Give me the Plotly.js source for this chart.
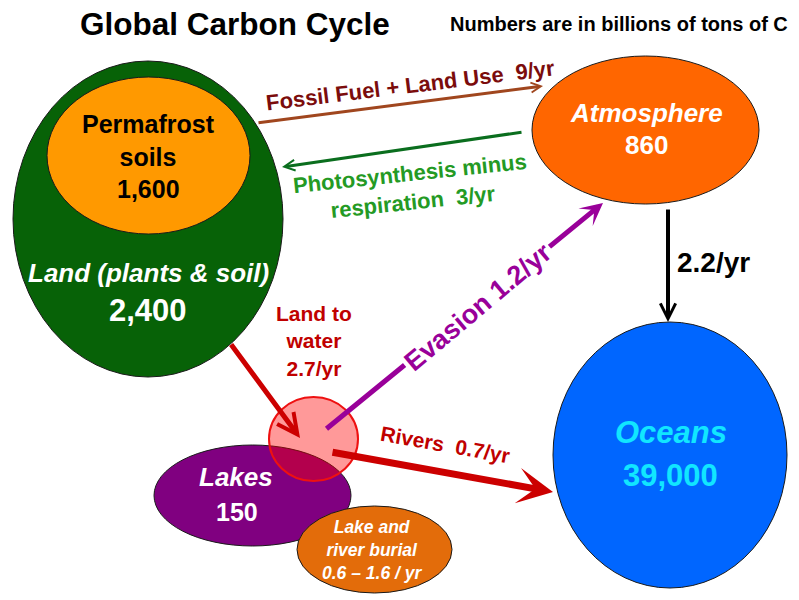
<!DOCTYPE html>
<html>
<head>
<meta charset="utf-8">
<script src="https://cdn.plot.ly/plotly-3.0.1.min.js"></script>
<style>html,body{margin:0;padding:0;background:#fff;}#chart{width:799px;height:600px;}</style>
</head>
<body>
<div id="chart"></div>
<script>
// ---- data ----
const chartTitle = 'Global Carbon Cycle';
const unitNote = 'Numbers are in billions of tons of C';
const poolNames = ['Land (plants & soil)', 'Permafrost<br>soils', 'Atmosphere', 'Oceans', 'Lakes'];
const poolValues = ['2,400', '1,600', '860', '39,000', '150'];
const fluxNames = ['Fossil Fuel + Land Use', 'Photosynthesis minus<br>respiration', 'Evasion', 'Land to<br>water', 'Rivers', '', 'Lake and<br>river burial<br>'];
const fluxValues = ['9/yr', '3/yr', '1.2/yr', '2.7/yr', '0.7/yr', '2.2/yr', '0.6 – 1.6 / yr'];

// ---- layout (positions & styles, in pixel-like axis units) ----
const FONT = 'Liberation Sans, Arial, sans-serif';
const poolGeom = [
  {x0: 13, x1: 283, y0: 61, y1: 377, fill: '#076207'},
  {x0: 47, x1: 250, y0: 77, y1: 234, fill: '#ff9900'},
  {x0: 532, x1: 759, y0: 56, y1: 204, fill: '#ff6600'},
  {x0: 553, x1: 787, y0: 322, y1: 588, fill: '#0066ff'},
  {x0: 154, x1: 351, y0: 445, y1: 546, fill: '#800080'}
];
const burialGeom = {x0: 297, x1: 452, y0: 506, y1: 593, fill: '#e36c0a'};
const junctionGeom = {x0: 269, x1: 358, y0: 397, y1: 481};

const arrowGeom = [
  {tx: 257, ty: 123, hx: 543, hy: 86, color: '#a0461e', w: 3, head: 5, size: 0.65},
  {tx: 523, ty: 132, hx: 282, hy: 167, color: '#0a6e1e', w: 3, head: 5, size: 0.7},
  {tx: 325, ty: 430, hx: 603, hy: 203, color: '#990099', w: 5, head: 3, size: 0.75},
  {tx: 230, ty: 343, hx: 300, hy: 438, color: '#cc0000', w: 5, head: 5, size: 0.8},
  {tx: 331, ty: 452, hx: 553, hy: 492, color: '#cc0000', w: 7, head: 3, size: 0.85},
  {tx: 668, ty: 208, hx: 668, hy: 322, color: '#000000', w: 4, head: 5, size: 0.75}
];
const fluxTextGeom = [
  {x: 410, y: 85, size: 22, color: '#7b0c0c', angle: -7, sep: '  '},
  {x: 411, y: 188, size: 22, color: '#249a24', angle: -6, sep: '  '},
  {x: 478, y: 307, size: 27, color: '#990099', angle: -40, sep: ' ', bg: '#ffffff'},
  {x: 314, y: 341, size: 21, color: '#c00000', angle: 0, sep: '<br>'},
  {x: 445, y: 444, size: 21, color: '#c00000', angle: 10, sep: '  '},
  {x: 713, y: 262, size: 28, color: '#000000', angle: 0, sep: ''},
  {x: 372, y: 550, size: 17.5, color: '#ffffff', angle: 0, sep: '', italic: true}
];
const poolTextGeom = [
  {nx: 148, ny: 273, nsize: 26, vx: 148, vy: 310, vsize: 31, color: '#ffffff', italic: true},
  {nx: 148, ny: 140, nsize: 25, vx: 148, vy: 189, vsize: 25, color: '#000000', italic: false},
  {nx: 646, ny: 113, nsize: 26, vx: 646, vy: 145, vsize: 26, color: '#ffffff', italic: true},
  {nx: 671, ny: 432, nsize: 31, vx: 670, vy: 475, vsize: 31, color: '#11e6ff', italic: true},
  {nx: 236, ny: 477, nsize: 26, vx: 237, vy: 512, vsize: 25, color: '#ffffff', italic: true}
];

const shapes = [];
poolGeom.forEach(g => shapes.push({type: 'circle', xref: 'x', yref: 'y', x0: g.x0, x1: g.x1, y0: g.y0, y1: g.y1,
  fillcolor: g.fill, line: {color: '#1a1a1a', width: 1}, layer: 'above'}));
shapes.push({type: 'circle', xref: 'x', yref: 'y', x0: burialGeom.x0, x1: burialGeom.x1, y0: burialGeom.y0, y1: burialGeom.y1, fillcolor: burialGeom.fill, line: {color: '#1a1a1a', width: 1}, layer: 'above'});
shapes.push({type: 'circle', xref: 'x', yref: 'y', x0: junctionGeom.x0, x1: junctionGeom.x1, y0: junctionGeom.y0, y1: junctionGeom.y1, fillcolor: 'rgba(255,0,0,0.4)', line: {color: '#ee1111', width: 2}, layer: 'above'});

const annotations = [];
annotations.push({text: chartTitle, x: 235, y: 24, xref: 'x', yref: 'y', showarrow: false, font: {family: FONT, size: 31.5, color: '#000', weight: 'bold'}});
annotations.push({text: unitNote, x: 619, y: 24, xref: 'x', yref: 'y', showarrow: false, font: {family: FONT, size: 20, color: '#000', weight: 'bold'}});

arrowGeom.forEach(a => annotations.push({text: '', x: a.hx, y: a.hy, ax: a.tx, ay: a.ty, xref: 'x', yref: 'y', axref: 'x', ayref: 'y',
  showarrow: true, arrowhead: a.head, arrowsize: a.size, arrowwidth: a.w, arrowcolor: a.color, standoff: 0, startstandoff: 0}));

poolTextGeom.forEach((g, i) => {
  annotations.push({text: poolNames[i], x: g.nx, y: g.ny, xref: 'x', yref: 'y', showarrow: false,
    font: {family: FONT, size: g.nsize, color: g.color, weight: 'bold', style: g.italic ? 'italic' : 'normal'}});
  annotations.push({text: poolValues[i], x: g.vx, y: g.vy, xref: 'x', yref: 'y', showarrow: false,
    font: {family: FONT, size: g.vsize, color: g.color, weight: 'bold'}});
});

fluxTextGeom.forEach((g, i) => {
  const a = {text: fluxNames[i] + g.sep + fluxValues[i], x: g.x, y: g.y, xref: 'x', yref: 'y', showarrow: false, textangle: g.angle,
    font: {family: FONT, size: g.size, color: g.color, weight: 'bold', style: g.italic ? 'italic' : 'normal'}};
  if (g.bg) { a.bgcolor = g.bg; a.borderpad = 2; }
  annotations.push(a);
});

const layout = {
  width: 799, height: 600,
  margin: {l: 0, r: 0, t: 0, b: 0},
  paper_bgcolor: '#ffffff', plot_bgcolor: '#ffffff',
  showlegend: false,
  xaxis: {range: [0, 799], visible: false, fixedrange: true},
  yaxis: {range: [600, 0], visible: false, fixedrange: true},
  shapes: shapes,
  annotations: annotations
};
Plotly.newPlot('chart', [{x: [], y: [], type: 'scatter', hoverinfo: 'skip'}], layout, {displayModeBar: false, staticPlot: true});
</script>
</body>
</html>
